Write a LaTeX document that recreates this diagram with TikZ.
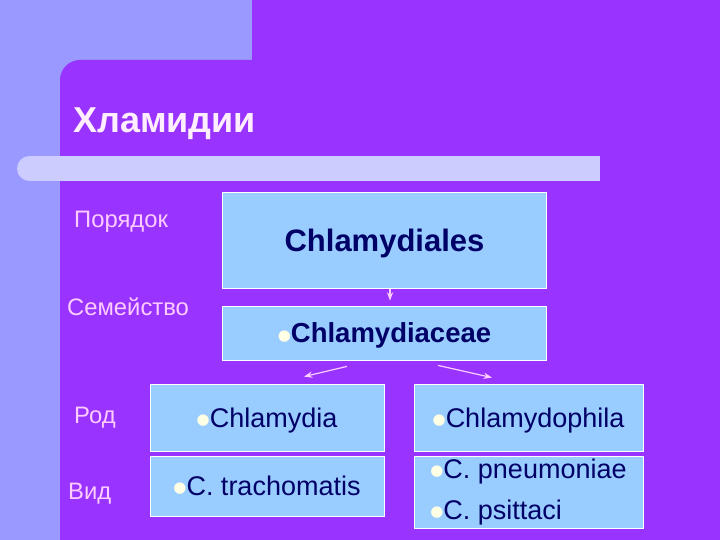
\documentclass[tikz,border=0pt]{standalone}
\usepackage{fontspec}
\setmainfont{Liberation Sans}
\newfontfamily\symfont{DejaVu Sans}
\usepackage{xcolor}
\usetikzlibrary{positioning,arrows.meta}

\definecolor{pagebg}{HTML}{9999FF}
\definecolor{purp}{HTML}{9933FF}
\definecolor{barcol}{HTML}{CCCCFF}
\definecolor{boxcol}{HTML}{99CCFF}
\definecolor{navy}{HTML}{000066}
\definecolor{pinkw}{HTML}{FFCCFF}
\definecolor{titlecol}{HTML}{FFEEFF}
\definecolor{bulcol}{HTML}{FFFFE6}

\newcommand{\bul}{{\symfont\fontsize{15}{15}\selectfont\color{bulcol}\raisebox{0.35ex}{●}}}

\tikzset{
  taxbox/.style={draw=white, line width=0.8pt, fill=boxcol, text=navy, inner sep=0pt},
  ranklbl/.style={anchor=west, inner sep=0pt, text=pinkw, font=\fontsize{23.8}{23.8}\selectfont},
  conn/.style={->, >=Stealth, draw=pinkw, line width=1.2pt}
}

\begin{document}
\begin{tikzpicture}[x=1pt,y=-1pt]
\useasboundingbox (0,0) rectangle (720,540);
% Background
\fill[pagebg] (0,0) rectangle (720,540);
\fill[purp] (252,0) rectangle (720,60);
\fill[purp] (60,540) [rounded corners=20pt] -- (60,60) -- (400,60) [sharp corners] -- (720,60) -- (720,540) -- cycle;
% Title bar
\fill[barcol] (29.5,156) rectangle (600,181);
\fill[barcol] (29.5,168.5) circle (12.5pt);

% Title
\node[anchor=west, inner sep=0pt, text=titlecol, font=\fontsize{36}{36}\selectfont\bfseries] (title) at (73,124) {Хламидии};

% Rank labels
\node[ranklbl] (lorder) at (74,222) {Порядок};
\node[ranklbl] (lfamily) at (67,307) {Семейство};
\node[ranklbl] (lgenus) at (74,418) {Род};
\node[ranklbl] (lspecies) at (68,494) {Вид};

% Boxes
\node[taxbox, text depth=0pt, minimum width=324pt, minimum height=96pt, font=\fontsize{31}{31}\selectfont\bfseries] (order) at (384.5,240) {Chlamydiales};
\node[taxbox, text depth=0pt, minimum width=324pt, minimum height=54pt, font=\fontsize{27.5}{27.5}\selectfont\bfseries] (family) at (384.5,333) {\bul Chlamydiaceae};
\node[taxbox, text depth=0pt, minimum width=234pt, minimum height=67pt, font=\fontsize{27}{27}\selectfont] (genA) at (267,417.5) {\bul Chlamydia};
\node[taxbox, text depth=0pt, minimum width=229pt, minimum height=67pt, font=\fontsize{27}{27}\selectfont] (genB) at (528.5,417.5) {\bul Chlamydophila};
\node[taxbox, text depth=0pt, minimum width=234pt, minimum height=60pt, font=\fontsize{27}{27}\selectfont] (spA) at (267,486) {\bul C. trachomatis};
\node[taxbox, minimum width=229pt, minimum height=72pt, align=left, font=\fontsize{27}{41}\selectfont] (spB) at (528.5,492) {\bul C. pneumoniae\\\bul C. psittaci};

% Arrows
\draw[conn] ([xshift=5.5pt,yshift=-1pt]order.south) -- ([xshift=5.5pt,yshift=5pt]family.north);
\draw[conn] ([xshift=-37.5pt,yshift=-6pt]family.south) -- ([xshift=37pt,yshift=7pt]genA.north);
\draw[conn] ([xshift=53.5pt,yshift=-5pt]family.south) -- ([xshift=-36.5pt,yshift=6pt]genB.north);
\end{tikzpicture}
\end{document}
